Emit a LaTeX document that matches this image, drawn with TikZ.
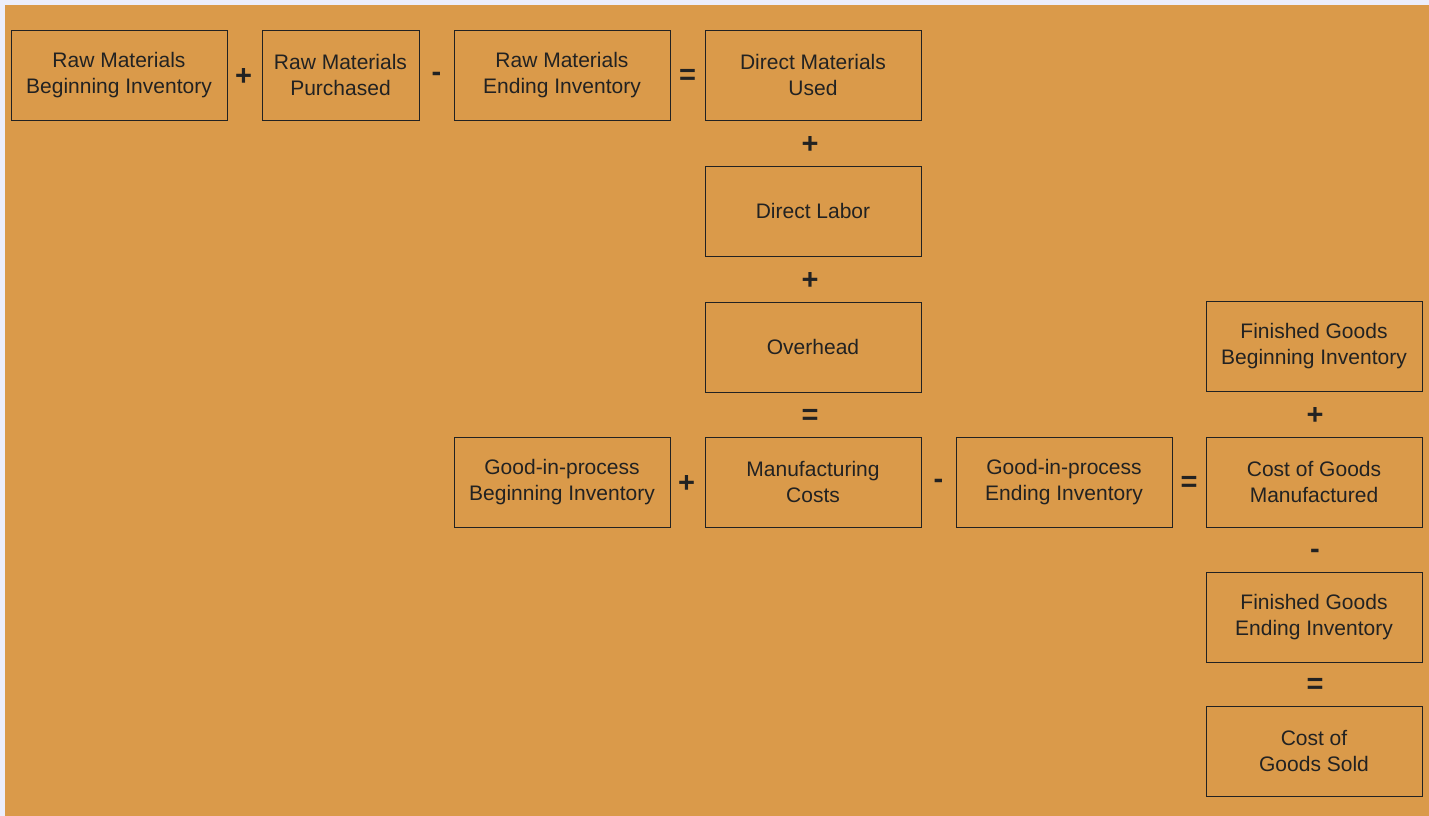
\documentclass[tikz,border=0pt]{standalone}
\usepackage{fontspec}
\setmainfont{Liberation Sans}
\usepackage{xcolor}
\usetikzlibrary{positioning,calc}
\definecolor{panel}{RGB}{218,154,74}
\definecolor{frame}{RGB}{236,238,251}
\definecolor{ink}{RGB}{34,34,34}

\begin{document}
\begin{tikzpicture}[x=1pt,y=-1pt,
    every node/.style={inner sep=0pt,text=ink},
    acct/.style={draw=ink,line width=0.9pt,minimum height=90pt,minimum width=216pt,
      align=center,font=\fontsize{21}{25.5}\selectfont},
    op/.style={font=\fontsize{29}{29}\bfseries\selectfont}]
    \fill[frame] (0,0) rectangle (1429,816);
    \fill[panel] (5,5) rectangle (1429,816);
    \useasboundingbox (0,0) rectangle (1429,816);
    % raw materials row
    \node[acct] (RMBI) at (119,75) {Raw Materials\\Beginning Inventory};
    \node[acct,minimum width=157pt] (RMP) at (340.5,75) {Raw Materials\\Purchased};
    \node[acct] (RMEI) at (562,75) {Raw Materials\\Ending Inventory};
    \node[acct] (DMU) at (813,75) {Direct Materials\\Used};
    \node[op] (p1) at ($(RMBI.east)!0.5!(RMP.west)+(-1,2)$) {+};
    \node[op] (m1) at ($(RMP.east)!0.5!(RMEI.west)+(0,2)$) {-};
    \node[op] (e1) at ($(RMEI.east)!0.5!(DMU.west)+(0,2)$) {=};
    % manufacturing costs column
    \node[acct] (DL) at (813,211) {Direct Labor};
    \node[acct] (OH) at (813,347) {Overhead};
    \node[acct] (MC) at (813,482) {Manufacturing\\Costs};
    \node[op] (p2) at ($(DMU.south)!0.5!(DL.north)+(-3,2)$) {+};
    \node[op] (p3) at ($(DL.south)!0.5!(OH.north)+(-3,2)$) {+};
    \node[op] (e2) at ($(OH.south)!0.5!(MC.north)+(-3,2)$) {=};
    % goods in process row
    \node[acct] (GBI) at (562,482) {Good-in-process\\Beginning Inventory};
    \node[acct] (GEI) at (1064,482) {Good-in-process\\Ending Inventory};
    \node[acct] (CGM) at (1314,482) {Cost of Goods\\Manufactured};
    \node[op] (p4) at ($(GBI.east)!0.5!(MC.west)+(-1,2)$) {+};
    \node[op] (m2) at ($(MC.east)!0.5!(GEI.west)+(0,2)$) {-};
    \node[op] (e3) at ($(GEI.east)!0.5!(CGM.west)+(0,2)$) {=};
    % finished goods column
    \node[acct] (FBI) at (1314,346) {Finished Goods\\Beginning Inventory};
    \node[acct] (FEI) at (1314,617) {Finished Goods\\Ending Inventory};
    \node[acct] (CGS) at (1314,751) {Cost of\\Goods Sold};
    \node[op] (p5) at ($(FBI.south)!0.5!(CGM.north)+(1,2)$) {+};
    \node[op] (m3) at ($(CGM.south)!0.5!(FEI.north)+(1,4)$) {-};
    \node[op] (e4) at ($(FEI.south)!0.5!(CGS.north)+(1,2)$) {=};
\end{tikzpicture}
\end{document}
